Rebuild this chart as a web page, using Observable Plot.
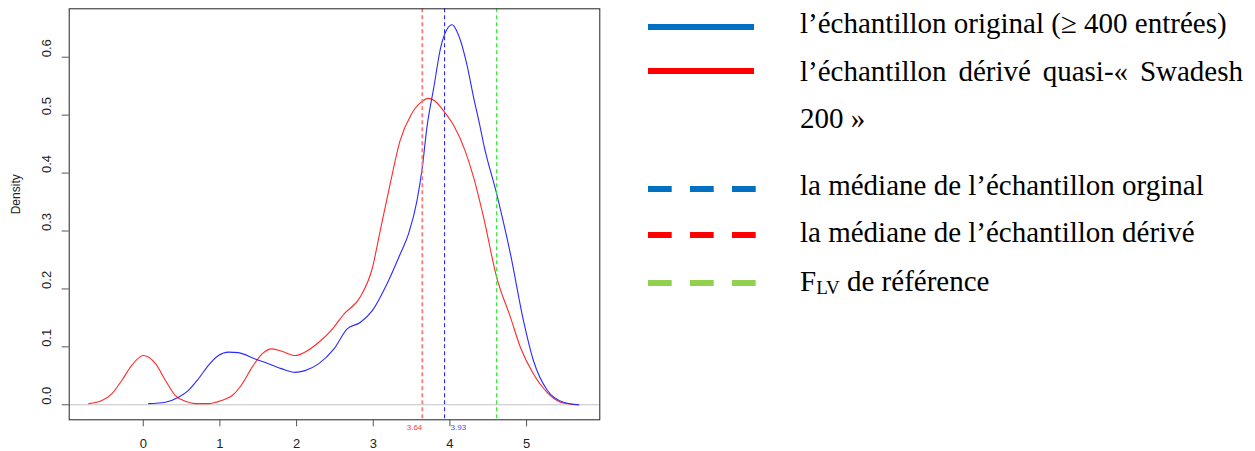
<!DOCTYPE html>
<html>
<head>
<meta charset="utf-8">
<script src="https://cdn.jsdelivr.net/npm/d3@7"></script>
<script src="https://cdn.jsdelivr.net/npm/@observablehq/plot@0.6"></script>
<style>
  html, body { margin: 0; padding: 0; background: #fff; }
  #wrap { position: relative; width: 1255px; height: 451px; overflow: hidden; background: #fff; }
  #chart { position: absolute; left: 0; top: 0; }
  .lg { position: absolute; font-family: "Liberation Serif", "Times New Roman", serif; font-size: 29px; line-height: 29px; color: #000; white-space: nowrap; }
  .sw { position: absolute; }
</style>
</head>
<body>
<div id="wrap"><div id="chart"></div></div>
<script>
// ---- data ----
const redX = [-0.71,-0.54,-0.41,-0.28,-0.15,0.0,0.16,0.29,0.42,0.55,0.68,0.85,1.02,1.16,1.29,1.42,1.55,1.68,1.81,1.98,2.11,2.29,2.45,2.62,2.83,2.99,3.09,3.22,3.35,3.49,3.62,3.72,3.80,3.92,4.05,4.20,4.31,4.44,4.61,4.79,4.92,5.09,5.31,5.48,5.68];
const redY = [0.002,0.0074,0.019,0.042,0.068,0.085,0.071,0.042,0.016,0.006,0.002,0.002,0.0074,0.016,0.036,0.065,0.088,0.0966,0.0924,0.085,0.091,0.108,0.128,0.157,0.186,0.237,0.300,0.381,0.456,0.500,0.522,0.529,0.525,0.507,0.482,0.438,0.392,0.323,0.220,0.151,0.099,0.053,0.016,0.003,0.000];

const blueX = [0.07,0.29,0.46,0.59,0.72,0.85,0.98,1.11,1.24,1.46,1.63,1.81,1.98,2.11,2.29,2.49,2.66,2.83,2.99,3.18,3.35,3.46,3.57,3.64,3.70,3.79,3.88,3.96,4.03,4.09,4.14,4.22,4.31,4.40,4.44,4.61,4.79,4.96,5.09,5.27,5.48,5.68];
const blueY = [0.002,0.0045,0.013,0.025,0.045,0.068,0.085,0.091,0.090,0.079,0.071,0.062,0.056,0.059,0.071,0.097,0.131,0.142,0.163,0.209,0.260,0.295,0.352,0.41,0.479,0.548,0.617,0.648,0.656,0.645,0.628,0.588,0.53,0.476,0.45,0.364,0.260,0.145,0.076,0.025,0.0045,0.000];

const medianRed = 3.64;
const medianBlue = 3.93;
const flvRef = 4.61;

const xTicks = [0, 1, 2, 3, 4, 5];
const yTicks = [0.0, 0.1, 0.2, 0.3, 0.4, 0.5, 0.6];
const yLabel = "Density";

const legendLabels = [
  "l’échantillon original (≥ 400 entrées)",
  "l’échantillon dérivé quasi-« Swadesh",
  "la médiane de l’échantillon orginal",
  "la médiane de l’échantillon dérivé",
  "F<span style='font-size:19px;position:relative;top:3px'>LV</span> de référence"
];
const legendCont = "200 »";
const legendColors = ["#0070c0", "#ff0000", "#0070c0", "#ff0000", "#92d050"];
const legendDashed = [false, false, true, true, true];

// ---- chart ----
const red = redX.map((x, i) => ({x, y: redY[i]}));
const blue = blueX.map((x, i) => ({x, y: blueY[i]}));
const dash = "4,3";

const plot = Plot.plot({
  width: 620,
  height: 451,
  marginLeft: 68.7,
  marginRight: 20.7,
  marginTop: 8.3,
  marginBottom: 31.7,
  x: {domain: [-0.966, 5.955]},
  y: {domain: [-0.0259, 0.6836]},
  style: {fontFamily: "'Liberation Sans', Arial, sans-serif", background: "white", color: "#222"},
  marks: [
    Plot.ruleY([0], {stroke: "#c4c4c4"}),
    Plot.line(red, {x: "x", y: "y", stroke: "#ff2a2a", strokeWidth: 1.1, curve: "monotone-x"}),
    Plot.line(blue, {x: "x", y: "y", stroke: "#2a2aff", strokeWidth: 1.1, curve: "monotone-x"}),
    Plot.ruleX([medianRed], {stroke: "#ff7a7a", strokeWidth: 1.8, strokeDasharray: dash}),
    Plot.ruleX([medianBlue], {stroke: "#2a2aff", strokeWidth: 1.1, strokeDasharray: dash}),
    Plot.ruleX([flvRef], {stroke: "#1ee81e", strokeWidth: 1.1, strokeDasharray: dash}),
    Plot.frame({stroke: "#222"}),
    Plot.axisX({ticks: xTicks, tickSize: 7, tickPadding: 12, fontSize: 13, stroke: "#555", label: null, tickFormat: d => String(d)}),
    Plot.axisY({ticks: yTicks, tickSize: 7, tickFormat: () => "", label: null, stroke: "#555"}),
    Plot.text(yTicks, {y: d => d, text: d => d.toFixed(1), frameAnchor: "left", dx: -22.7, rotate: -90, fontSize: 13, fill: "#222"}),
    Plot.text([yLabel], {text: d => d, frameAnchor: "left", dx: -52.7, rotate: -90, fontSize: 12, fill: "#222"}),
    Plot.text([medianRed], {x: d => d, text: d => d.toFixed(2), frameAnchor: "bottom", dy: 10, textAnchor: "end", fill: "#ff3b3b", fontSize: 8}),
    Plot.text([medianBlue], {x: d => d, text: d => d.toFixed(2), frameAnchor: "bottom", dy: 10, dx: 6, textAnchor: "start", fill: "#4a4aff", fontSize: 8})
  ]
});
document.getElementById("chart").appendChild(plot);

// ---- legend (HTML) ----
const wrap = document.getElementById("wrap");
const rowCenters = [27, 71, 189, 235, 283];
const rowBaselines = [33.3, 81.7, 195, 242.7, 291.7];
const contBaseline = 128.3;
const ascentOffset = 24.3;
legendLabels.forEach((lab, i) => {
  const ns = "http://www.w3.org/2000/svg";
  const svg = document.createElementNS(ns, "svg");
  svg.setAttribute("width", 112);
  svg.setAttribute("height", 10);
  svg.setAttribute("class", "sw");
  svg.style.left = "646px";
  svg.style.top = (rowCenters[i] - 5) + "px";
  const ln = document.createElementNS(ns, "line");
  ln.setAttribute("x1", 2);
  ln.setAttribute("x2", legendDashed[i] ? 110 : 108);
  ln.setAttribute("y1", 5);
  ln.setAttribute("y2", 5);
  ln.setAttribute("stroke", legendColors[i]);
  ln.setAttribute("stroke-width", 5.8);
  if (legendDashed[i]) ln.setAttribute("stroke-dasharray", "23.7 18.3");
  svg.appendChild(ln);
  wrap.appendChild(svg);

  const t = document.createElement("div");
  t.className = "lg";
  t.style.left = "800px";
  t.style.top = (rowBaselines[i] - ascentOffset) + "px";
  t.innerHTML = lab;
  if (i === 1) {
    t.style.width = "443px";
    t.style.textAlign = "justify";
    t.style.textAlignLast = "justify";
  }
  wrap.appendChild(t);
});
const c = document.createElement("div");
c.className = "lg";
c.style.left = "800px";
c.style.top = (contBaseline - ascentOffset) + "px";
c.textContent = legendCont;
wrap.appendChild(c);
</script>
</body>
</html>
